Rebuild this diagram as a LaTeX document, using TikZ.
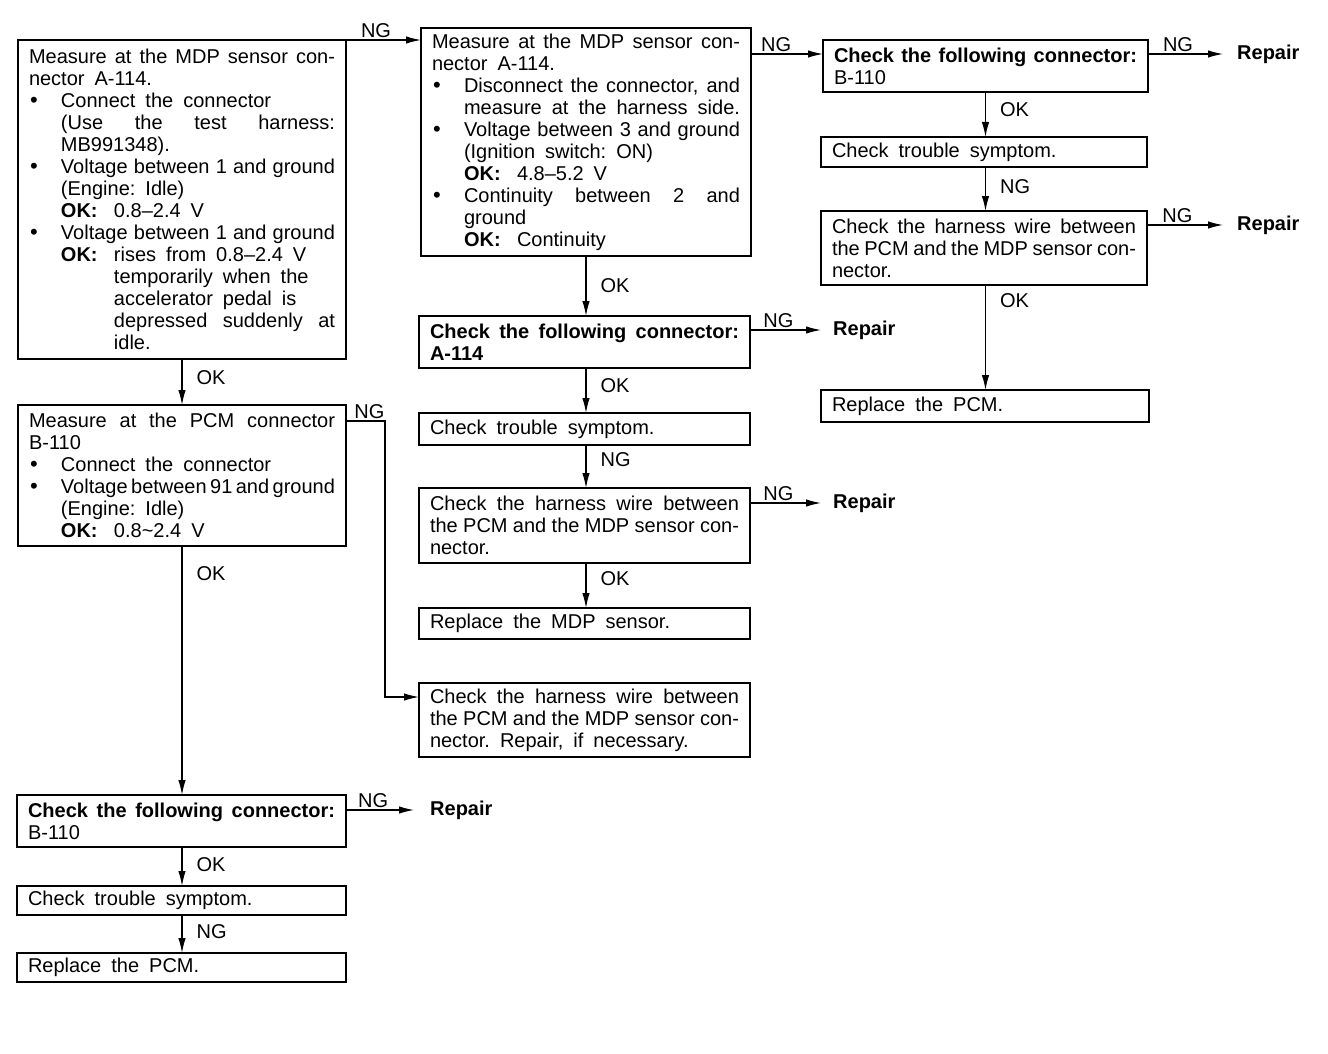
\documentclass[tikz,border=0pt]{standalone}
\usepackage{fontspec}
\setmainfont{Liberation Sans}
\usetikzlibrary{arrows.meta}
\setlength{\parskip}{0pt}
\newcommand\fs{\fontsize{20}{22}\selectfont}
\newlength\ind \setlength\ind{32pt}
\newlength\indb \setlength\indb{85pt}
\newcommand\bigbul{{\fontsize{22}{22}\selectfont\textbullet}}
\newcommand\jspace{\spaceskip=\fontdimen2\font plus 1fil minus 0.5\fontdimen2\font\relax}
\newcommand\rspace{\spaceskip=1.8\fontdimen2\font\relax}
\newcommand\LJ[2][0pt]{\noindent\hspace*{#1}{\jspace\hbox to \dimexpr\hsize-#1\relax{#2}}\par}
\newcommand\LR[2][0pt]{\noindent\hspace*{#1}{\rspace #2}\par}
\newcommand\BJ[1]{\noindent\makebox[\ind][l]{\hspace{1pt}\bigbul}{\jspace\hbox to \dimexpr\hsize-\ind\relax{#1}}\par}
\newcommand\BR[1]{\noindent\makebox[\ind][l]{\hspace{1pt}\bigbul}{\rspace #1}\par}
\newcommand\okv[1]{\makebox[53pt][l]{\textbf{OK:}}#1}
\begin{document}
\begin{tikzpicture}[x=1pt,y=-1pt,
  box/.style={draw, line width=1.6pt, anchor=north west, inner xsep=11pt, inner ysep=0pt, outer sep=0pt, align=left, font=\fs},
  arr/.style={line width=1.3pt, -{Latex[length=15pt,width=7.5pt]}},
  lbl/.style={font=\fs, inner sep=2pt},
  rep/.style={font=\fs\bfseries, anchor=west, inner sep=0pt}]
\useasboundingbox (0,0) rectangle (1328,1054);

% ---------- left column ----------
\node[box, text width=306pt, minimum width=328pt, minimum height=319pt] (A) at (18,40) {%
\LJ{Measure at the MDP sensor con-}
\LR{nector A-114.}
\BR{Connect the connector}
\LJ[\ind]{(Use the test harness:}
\LR[\ind]{MB991348).}
\BJ{Voltage between 1 and ground}
\LR[\ind]{(Engine: Idle)}
\LR[\ind]{\okv{0.8–2.4 V}}
\BJ{Voltage between 1 and ground}
\LR[\ind]{\okv{rises from 0.8–2.4 V}}
\LR[\indb]{temporarily when the}
\LR[\indb]{accelerator pedal is}
\LJ[\indb]{depressed suddenly at}
\LR[\indb]{idle.}};

\node[box, text width=306pt, minimum width=328pt, minimum height=141pt] (L) at (18,405) {%
\LJ{Measure at the PCM connector}
\LR{B-110}
\BR{Connect the connector}
\BJ{Voltage between 91 and ground}
\LR[\ind]{(Engine: Idle)}
\LR[\ind]{\okv{0.8\textasciitilde 2.4 V}}};

\node[box, text width=307pt, minimum width=329pt, minimum height=52pt] (M) at (17,795) {%
\LJ{\textbf{Check the following connector:}}
\LR{B-110}};

\node[box, text width=307pt, minimum width=329pt, minimum height=29pt] (N) at (17,886) {%
\LR{Check trouble symptom.}};

\node[box, text width=307pt, minimum width=329pt, minimum height=29pt] (O) at (17,953) {%
\LR{Replace the PCM.}};

% ---------- middle column ----------
\node[box, text width=308pt, minimum width=330pt, minimum height=228pt] (B) at (421,28) {%
\LJ{Measure at the MDP sensor con-}
\LR{nector A-114.}
\BJ{Disconnect the connector, and}
\LJ[\ind]{measure at the harness side.}
\BJ{Voltage between 3 and ground}
\LR[\ind]{(Ignition switch: ON)}
\LR[\ind]{\okv{4.8–5.2 V}}
\BJ{Continuity between 2 and}
\LR[\ind]{ground}
\LR[\ind]{\okv{Continuity}}};

\node[box, text width=309pt, minimum width=331pt, minimum height=52pt] (G) at (419,316) {%
\LJ{\textbf{Check the following connector:}}
\LR{\textbf{A-114}}};

\node[box, text width=309pt, minimum width=331pt, minimum height=32pt] (H) at (419,413) {%
\LR{Check trouble symptom.}};

\node[box, text width=309pt, minimum width=331pt, minimum height=75pt] (I) at (419,488) {%
\LJ{Check the harness wire between}
\LJ{the PCM and the MDP sensor con-}
\LR{nector.}};

\node[box, text width=309pt, minimum width=331pt, minimum height=31pt] (J) at (419,608) {%
\LR{Replace the MDP sensor.}};

\node[box, text width=309pt, minimum width=331pt, minimum height=74pt] (K) at (419,683) {%
\LJ{Check the harness wire between}
\LJ{the PCM and the MDP sensor con-}
\LR{nector. Repair, if necessary.}};

% ---------- right column ----------
\node[box, text width=303pt, minimum width=325pt, minimum height=52pt] (C) at (823,40) {%
\LJ{\textbf{Check the following connector:}}
\LR{B-110}};

\node[box, text width=304pt, minimum width=326pt, minimum height=30pt] (D) at (821,137) {%
\LR{Check trouble symptom.}};

\node[box, text width=304pt, minimum width=326pt, minimum height=74pt] (E) at (821,211) {%
\LJ{Check the harness wire between}
\LJ{the PCM and the MDP sensor con-}
\LR{nector.}};

\node[box, text width=306pt, minimum width=328pt, minimum height=32pt] (F) at (821,390) {%
\LR{Replace the PCM.}};

% ---------- Repair labels ----------
\node[rep] (R1) at (1237,54) {Repair};
\node[rep] (R2) at (1237,225) {Repair};
\node[rep] (R3) at (833,330) {Repair};
\node[rep] (R4) at (833,503) {Repair};
\node[rep] (R5) at (430,810) {Repair};

% ---------- helper coordinates ----------
\coordinate (yBC) at (0,54);
\coordinate (lk1) at (385,421);
\coordinate (lk2) at (385,697);

% ---------- connectors ----------
\draw[arr] (A.north east) -- (B.west |- A.north east) node[lbl, pos=0.4, above] {NG};
\draw[arr] (B.east |- yBC) -- (C.west |- yBC) node[lbl, pos=0.35, above] {NG};
\draw[arr] (C.east |- R1.west) -- ([xshift=-14pt]R1.west) node[lbl, pos=0.4, above] {NG};
\draw[arr] (E.east |- R2.west) -- ([xshift=-14pt]R2.west) node[lbl, pos=0.4, above] {NG};
\draw[arr] (G.east |- R3.west) -- ([xshift=-12pt]R3.west) node[lbl, pos=0.4, above] {NG};
\draw[arr] (I.east |- R4.west) -- ([xshift=-12pt]R4.west) node[lbl, pos=0.4, above] {NG};
\draw[arr] (M.east |- R5.west) -- ([xshift=-16pt]R5.west) node[lbl, pos=0.4, above] {NG};

\draw[arr] (C.south) -- (C.south |- D.north) node[lbl, pos=0.4, right, xshift=12pt] {OK};
\draw[arr] (D.south -| C.south) -- (C.south |- E.north) node[lbl, pos=0.45, right, xshift=12pt] {NG};
\draw[arr] (E.south -| C.south) -- (C.south |- F.north) node[lbl, pos=0.15, right, xshift=12pt] {OK};

\draw[arr] (B.south) -- (B.south |- G.north) node[lbl, pos=0.5, right, xshift=12pt] {OK};
\draw[arr] (G.south -| B.south) -- (B.south |- H.north) node[lbl, pos=0.4, right, xshift=12pt] {OK};
\draw[arr] (H.south -| B.south) -- (B.south |- I.north) node[lbl, pos=0.35, right, xshift=12pt] {NG};
\draw[arr] (I.south -| B.south) -- (B.south |- J.north) node[lbl, pos=0.35, right, xshift=12pt] {OK};

\draw[arr] (A.south) -- (A.south |- L.north) node[lbl, pos=0.4, right, xshift=12pt] {OK};
\draw[arr] (L.south -| A.south) -- (A.south |- M.north) node[lbl, pos=0.11, right, xshift=12pt] {OK};
\draw[arr] (M.south -| A.south) -- (A.south |- N.north) node[lbl, pos=0.45, right, xshift=12pt] {OK};
\draw[arr] (N.south -| A.south) -- (A.south |- O.north) node[lbl, pos=0.45, right, xshift=12pt] {NG};

\draw[arr] (L.east |- lk1) -- (lk1) node[lbl, pos=0.6, above] {NG} -- (lk2) -- (K.west |- lk2);
\end{tikzpicture}
\end{document}
